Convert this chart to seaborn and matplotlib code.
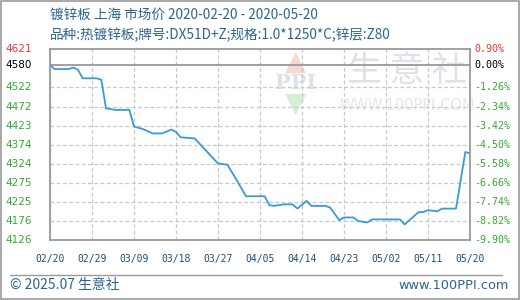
import matplotlib
matplotlib.use("Agg")
import matplotlib.pyplot as plt
from matplotlib.patches import Rectangle
from matplotlib.lines import Line2D
import seaborn as sns
import pandas as pd

# ---- data ----
dates = ["2020-02-20", "2020-02-21", "2020-02-24", "2020-02-25", "2020-02-26", "2020-02-27",
         "2020-03-01", "2020-03-02", "2020-03-03", "2020-03-05", "2020-03-08", "2020-03-09",
         "2020-03-11", "2020-03-13", "2020-03-15", "2020-03-17", "2020-03-18", "2020-03-19",
         "2020-03-22", "2020-03-27", "2020-03-29", "2020-03-31", "2020-04-02", "2020-04-06",
         "2020-04-07", "2020-04-08", "2020-04-10", "2020-04-12", "2020-04-13", "2020-04-15",
         "2020-04-16", "2020-04-19", "2020-04-20", "2020-04-22", "2020-04-23", "2020-04-25",
         "2020-04-26", "2020-04-28", "2020-04-29", "2020-05-05", "2020-05-06", "2020-05-07",
         "2020-05-09", "2020-05-10", "2020-05-11", "2020-05-13", "2020-05-14", "2020-05-17",
         "2020-05-19", "2020-05-20"]
prices = [4580, 4570, 4570, 4574, 4568, 4546,
          4546, 4542, 4468, 4464, 4464, 4421,
          4414, 4403, 4403, 4413, 4407, 4393,
          4390, 4325, 4322, 4282, 4240, 4240,
          4217, 4215, 4219, 4219, 4208, 4228,
          4215, 4215, 4211, 4178, 4185, 4185,
          4176, 4172, 4180, 4180, 4167, 4178,
          4199, 4199, 4204, 4201, 4208, 4208,
          4355, 4351]
base_price = 4580
left_ticks = [4126, 4176, 4225, 4275, 4324, 4374, 4423, 4472, 4522, 4580, 4621]
pct_vals = [-9.90, -8.82, -7.74, -6.66, -5.58, -4.50, -3.42, -2.34, -1.26, 0.00, 0.90]
right_ticks = ["-9.90%", "-8.82%", "-7.74%", "-6.66%", "-5.58%", "-4.50%", "-3.42%",
               "-2.34%", "-1.26%", "0.00%", "0.90%"]
xtick_labels = ["02/20", "02/29", "03/09", "03/18", "03/27", "04/05", "04/14",
                "04/23", "05/02", "05/11", "05/20"]
title1 = "镀锌板 上海 市场价 2020-02-20 - 2020-05-20"
title2 = "品种:热镀锌板;牌号:DX51D+Z;规格:1.0*1250*C;锌层:Z80"
footer_left = "© 2025.07 生意社"
footer_right = "www.100PPI.com"

df = pd.DataFrame({"date": pd.to_datetime(dates), "price": prices})

sns.set_theme(style="white")
plt.rcParams['font.family'] = ['Noto Sans CJK SC', 'DejaVu Sans']

W, H = 520, 300
fig = plt.figure(figsize=(W / 100, H / 100), dpi=100)
L, R, T, B = 50, 470, 49.3, 240
PW, PH = R - L, B - T
ax = fig.add_axes([L / W, 1 - B / H, PW / W, PH / H])
ft = fig.transFigure

ypos = [base_price * (1 + p / 100) for p in pct_vals]
ymin, ymax = ypos[0], ypos[-1]

x0 = pd.Timestamp("2020-02-20")
x1 = pd.Timestamp("2020-05-20")
xticks = [x0 + pd.Timedelta(days=9 * i) for i in range(len(xtick_labels))]

sns.lineplot(data=df, x="date", y="price", ax=ax, color="#3a9ad9", lw=1.3, zorder=5)

ax.set_xlim(x0, x1)
ax.set_ylim(ymin, ymax)
for s in ax.spines.values():
    s.set_color("#999999")
    s.set_linewidth(1.3)
    s.set_zorder(6)
ax.set_xlabel("")
ax.set_ylabel("")

ax.set_xticks(xticks)
ax.set_xticklabels(xtick_labels, family="DejaVu Sans Mono", fontsize=7, color="#1a4f7a")
ax.tick_params(axis="x", length=0, pad=10)
ax.set_yticks(ypos[:9])
ax.set_yticklabels([])
ax.tick_params(axis="y", length=0)

ax.set_axisbelow(True)
ax.grid(True, color="#c8c8c8", lw=0.9, ls=(0, (3, 2)))
ax.axhline(base_price, color="#999999", lw=1.3, zorder=4)

# watermark text (behind the line)
wm = "#dde2ea"
ax.text(407 / W, 1 - 72 / H, "生 意 社", transform=ft, ha="center", va="center", fontsize=25,
        color=wm, zorder=0.3)
ax.text(407 / W, 1 - 105 / H, "WWW.100PPI.COM", transform=ft, ha="center", va="center",
        fontsize=10.5, color="#e6e6e6", family="DejaVu Sans", zorder=0.3)
ax.text(296 / W, 1 - 62 / H, "▲", transform=ft, ha="center", va="center", fontsize=20,
        color="#f8d8d2", family="DejaVu Sans", zorder=0.2)
ax.text(296 / W, 1 - 104 / H, "▼", transform=ft, ha="center", va="center", fontsize=20,
        color="#d8eed8", family="DejaVu Sans", zorder=0.2)
ax.text(296 / W, 1 - 83 / H, "PPI", transform=ft, ha="center", va="center", fontsize=15,
        color="#dde2ea", family="DejaVu Serif", fontweight="bold", zorder=0.3)

green, red = "#33aa33", "#ee3333"
for i, (yv, lv, rv) in enumerate(zip(ypos, left_ticks, right_ticks)):
    c = red if i == len(ypos) - 1 else ("black" if i == len(ypos) - 2 else green)
    fy = (yv - ymin) / (ymax - ymin)
    ax.text(-45 / PW, fy, str(lv), transform=ax.transAxes,
            ha="left", va="center", fontsize=7.5, color=c, family="DejaVu Sans")
    ax.text(1 + 4.5 / PW, fy, rv, transform=ax.transAxes,
            ha="left", va="center", fontsize=7.2, color=c, family="DejaVu Sans Mono")

# titles
tc = "#2b6592"
fig.text(50 / W, 1 - 15 / H, title1, ha="left", va="center", fontsize=9.8, color=tc)
fig.text(50 / W, 1 - 35 / H, title2, ha="left", va="center", fontsize=9.8, color=tc)

# footer
fig.add_artist(Line2D([10 / W, 502 / W], [1 - 275 / H, 1 - 275 / H], transform=ft,
                      color="#999999", lw=1))
fig.text(10 / W, 1 - 285.5 / H, footer_left, ha="left", va="center", fontsize=10, color=tc)
fig.text(509 / W, 1 - 285.5 / H, footer_right, ha="right", va="center", fontsize=9.3,
         color=tc, family="DejaVu Sans")

# outer border
fig.add_artist(Rectangle((0.6 / W, 0.6 / H), (W - 1.6) / W, (H - 1.6) / H,
                         transform=ft, fill=False, edgecolor="#999999", lw=1.2))

fig.savefig("out.png", dpi=100)
